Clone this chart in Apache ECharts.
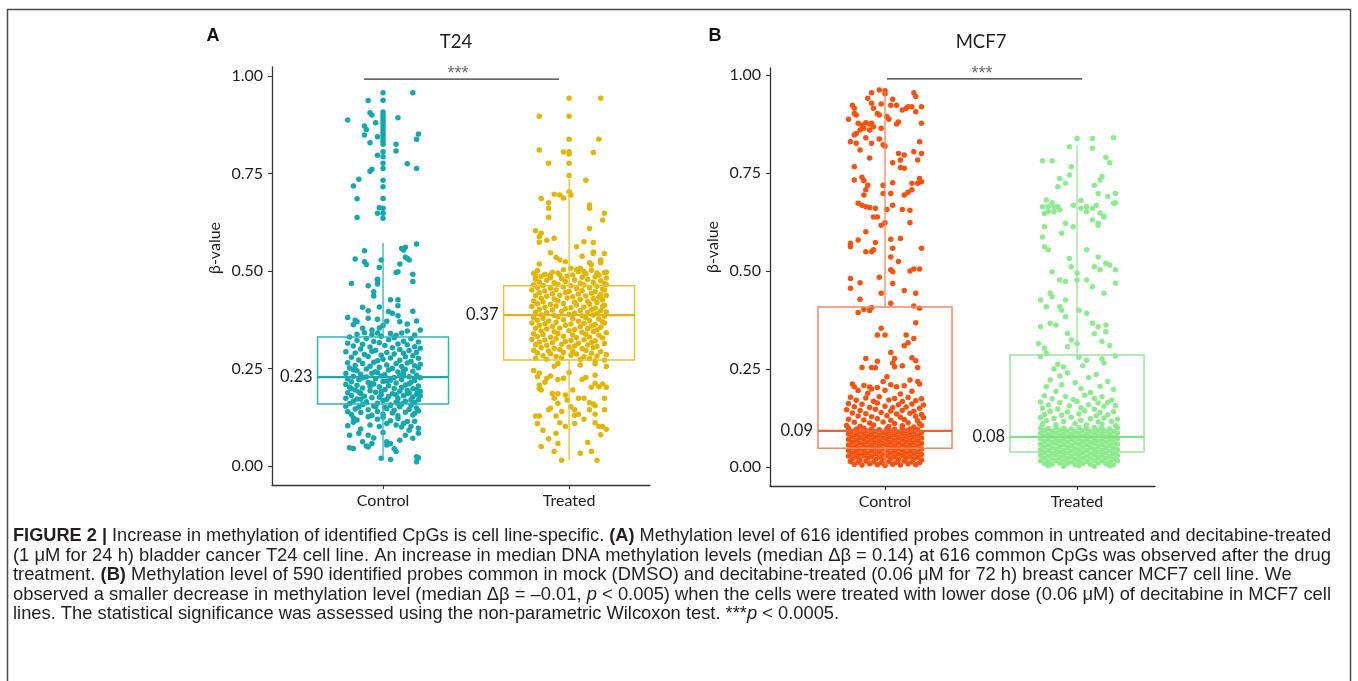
<!DOCTYPE html>
<html><head><meta charset="utf-8">
<script src="https://cdn.jsdelivr.net/npm/echarts@6/dist/echarts.min.js"></script>
<style>html,body{margin:0;padding:0;background:#fff}#c{width:1358px;height:681px}</style>
</head><body><div id="c"></div>
<script>
// ---------------- data ----------------
const categories = ['Control', 'Treated'];
const yTicks = [0, 0.25, 0.5, 0.75, 1];
const panelTitles = ['T24', 'MCF7'];
// box statistics per category: [min, q1, median, q3, max]
const t24Box = [[0.015, 0.159, 0.228, 0.331, 0.572], [0.015, 0.272, 0.387, 0.462, 0.736]];
const mcf7Box = [[0.004, 0.048, 0.092, 0.408, 0.957], [0.001, 0.038, 0.077, 0.286, 0.820]];
const t24MedianLabels = ['0.23', '0.37'];
const mcf7MedianLabels = ['0.09', '0.08'];
// boxplot outliers (drawn on the category centre)
const t24CtrlOutliers = [0.957, 0.938, 0.908, 0.900, 0.893, 0.885, 0.878, 0.870, 0.862, 0.855, 0.848, 0.840, 0.832, 0.825, 0.806, 0.793, 0.776, 0.763, 0.733, 0.716, 0.686, 0.661, 0.648, 0.635];
const t24TrtOutliers = [0.943, 0.897, 0.838, 0.806, 0.800, 0.776, 0.745];
// jittered points, flat pairs: [jitter (1/100 of a category), beta (1/1000), ...]
const t24Ctrl = [
16,957,-8,937,-19,887,-7,906,-6,900,-4,880,-10,872,-9,863,8,893,-10,849,-3,844,-7,829,19,851,18,838,7,825,7,808,-3,797,13,775,18,763,-6,761,-7,756,-13,735,-16,718,-14,685,-2,662,-3,648,-14,637,
18,569,-10,552,10,558,12,561,-15,531,-10,524,-9,517,-1,528,12,535,14,528,-2,509,9,518,7,496,16,492,-3,479,11,554,13,533,8,498,16,473,
-17,468,-3,477,-3,467,-8,462,-5,447,-5,436,-11,407,-2,408,8,426,8,411,16,397,3,396,4,426,
-15,374,-14,370,-16,362,-8,379,-3,376,8,385,9,370,0,360,2,371,13,364,-11,353,-6,349,-2,354,20,349,17,336,-14,338,-10,342,-6,337,-3,341,4,340,7,335,10,341,13,346,-19,381,5,392,-8,398,18,372,
-18,331,-9,327,-1,333,6,329,15,326,
-14,322,-5,319,3,324,11,320,19,318,
-19,315,-11,312,-2,316,8,313,13,311,
-16,308,-7,305,1,309,5,303,17,306,20,302,
-12,300,-4,297,9,299,14,296,
-20,293,-15,290,-6,294,2,291,11,289,18,292,
-10,286,-1,284,6,287,16,283,
-17,279,-8,281,4,277,12,280,19,276,
-13,272,-3,270,0,274,9,271,15,268,
-19,265,-11,263,-5,266,7,262,13,264,20,261,
-15,258,-7,256,2,259,10,255,17,257,
-18,251,-9,249,-2,253,5,250,12,248,19,252,
-14,244,-4,242,3,246,8,241,16,243,
-20,237,-12,235,-6,238,1,234,11,236,18,233,
-16,230,-9,228,-1,231,6,227,14,229,20,226,
-19,223,-13,221,-4,224,4,220,10,222,17,219,
-17,216,-8,214,0,217,7,213,15,215,
-20,209,-14,207,-5,210,3,206,12,208,19,205,
-18,202,-11,200,-2,203,6,199,10,201,16,198,
-15,195,-7,193,1,196,9,192,13,194,20,191,
-19,188,-12,186,-4,189,5,185,14,187,18,184,
-17,181,-10,179,-1,182,3,178,11,180,16,177,
-20,174,-14,172,-6,175,2,171,8,173,19,170,
-16,167,-9,165,0,168,7,164,12,166,17,163,
-18,160,-11,158,-3,161,4,157,10,159,15,156,
-20,153,-13,151,-5,154,1,150,9,152,18,149,
-15,146,-8,144,2,147,6,143,14,145,19,142,
-19,139,-12,137,-3,140,5,136,12,138,17,135,
-17,132,-6,130,0,133,8,129,16,131,
-16,247,-3,239,9,232,-11,226,2,218,14,211,-7,204,18,196,-13,190,7,183,-2,176,15,169,-9,162,4,155,-17,198,11,244,-6,212,17,225,-1,191,8,160,-12,171,20,180,-4,152,13,186,
-16,124,-14,118,-16,112,-8,126,-3,120,0,125,4,116,8,122,11,109,13,114,15,101,-7,105,-2,101,2,109,7,105,10,100,19,97,-18,79,-13,84,-8,79,0,86,12,79,19,84,-11,62,-6,58,2,62,4,57,16,71,-16,45,-8,49,2,54,6,44,-1,20,7,37,18,24,18,11,-18,47,-9,51,4,17,19,21,-12,95,14,92,-5,72,9,66,-19,103,17,115
];
const t24Trt = [
17,943,-16,897,16,838,-16,810,-3,805,13,804,-11,776,9,733,0,703,1,695,-15,686,-8,697,-5,695,-3,687,-11,675,-11,661,11,669,11,661,-11,638,19,648,18,631,11,609,-18,603,-15,597,-16,588,-16,574,-12,579,-8,584,4,562,8,575,13,573,-10,547,-7,535,-5,528,-2,524,13,549,13,545,7,538,19,545,17,528,17,521,-16,518,1,507,4,503,6,507,8,498,11,521,12,516,15,495,20,497,-10,490,-5,490,-13,491,-18,488,
-17,501,-9,497,-3,503,5,499,12,502,19,496,
-19,494,-13,491,-6,495,2,490,9,493,16,489,
-15,486,-10,483,-1,487,7,484,14,485,20,482,
-18,479,-12,476,-4,480,3,477,10,478,17,475,
-16,472,-8,470,-2,473,6,469,13,471,19,468,
-19,465,-14,463,-6,466,1,462,8,464,15,461,20,465,
-17,458,-10,456,-3,459,4,455,11,457,18,454,
-20,451,-13,449,-7,452,0,448,7,450,14,447,19,451,
-16,444,-9,442,-2,445,5,441,12,443,17,440,
-18,437,-12,435,-5,438,2,434,9,436,16,433,20,437,
-15,430,-8,428,-1,431,6,427,13,429,18,426,
-19,423,-14,421,-6,424,3,420,10,422,15,419,
-17,416,-10,414,-3,417,4,413,11,415,19,412,
-20,409,-13,407,-7,410,1,406,8,408,14,405,18,409,
-16,402,-9,400,-2,403,6,399,12,401,17,398,
-18,395,-12,393,-4,396,3,392,10,394,15,391,20,395,
-15,388,-8,386,0,389,7,385,13,387,19,384,
-19,381,-14,379,-6,382,2,378,9,380,16,377,
-17,374,-11,372,-3,375,5,371,11,373,18,370,
-20,367,-13,365,-7,368,1,364,8,366,14,363,19,367,
-16,360,-9,358,-2,361,6,357,12,359,17,356,
-18,353,-12,351,-5,354,3,350,10,352,15,349,
-15,346,-8,344,0,347,7,343,13,345,20,342,
-19,339,-14,337,-6,340,2,336,9,338,16,335,
-17,332,-10,330,-3,333,4,329,11,331,18,328,
-20,325,-13,323,-7,326,1,322,8,324,14,321,
-16,318,-9,316,-2,319,5,315,12,317,19,314,
-18,311,-12,309,-4,312,3,308,10,310,15,307,
-15,304,-8,302,0,305,7,301,13,303,
-19,297,-11,295,-5,298,2,294,9,296,17,293,
-17,290,-10,288,-3,291,4,287,12,289,20,286,
-14,283,-7,281,1,284,8,280,15,282,
-18,276,-12,274,-4,277,6,273,11,275,19,272,
-17,229,-16,238,-10,231,-12,225,-3,225,-6,222,-8,256,-6,263,20,255,14,270,14,262,6,259,14,233,7,222,9,227,-16,208,-16,199,-15,195,14,212,16,203,18,210,20,202,12,202,-9,186,-6,185,-8,174,-2,182,5,174,8,174,11,162,14,155,13,159,19,174,-1,169,1,152,3,144,-6,161,-10,148,-11,144,-7,128,-18,128,-16,128,3,130,5,133,11,144,14,133,19,144,-17,109,-5,111,-2,101,3,109,14,111,16,101,18,101,-14,92,-7,84,20,94,-6,58,-8,37,6,33,12,37,-4,15,15,15,-19,245,0,240,-13,215,2,195,-4,140,8,120,-11,70,10,60,-15,50,17,80
];
const mcf7Ctrl = [
-3,962,0,960,0,952,-7,955,15,955,16,945,4,938,-17,923,-16,915,-16,902,-15,898,-9,941,-7,928,-6,915,-2,926,3,923,6,923,9,911,11,915,12,919,14,919,19,919,16,906,-4,902,-3,898,1,894,2,887,-19,887,-14,877,-12,872,-10,878,-8,875,-7,877,-6,868,-11,864,-13,860,-15,851,-16,847,7,880,6,875,19,877,-2,864,-8,860,-18,830,-15,826,-13,809,-10,840,-7,826,-3,837,-1,822,0,818,18,830,19,800,17,783,7,800,10,796,8,783,-8,788,4,776,15,804,-16,766,8,764,10,762,18,736,19,728,17,724,-16,732,-12,739,-11,730,-9,719,-10,707,-11,694,-1,719,4,725,-1,698,3,698,14,724,14,707,10,694,12,701,-14,673,-12,668,-10,664,-8,662,-5,660,-6,638,-4,638,1,657,4,668,9,657,13,655,-2,617,0,623,13,623,-10,600,-18,571,-18,562,-14,579,-5,573,-6,554,-7,549,-10,549,3,581,8,583,4,558,19,558,3,536,7,524,3,503,4,498,13,500,15,505,18,505,-18,481,-3,484,
-13,470,-18,456,-2,443,4,468,10,450,16,443,-13,428,3,418,-14,394,-11,402,-7,407,-8,399,15,411,18,405,16,368,-2,354,-4,337,0,337,11,337,15,328,12,317,10,309,3,292,5,277,4,265,5,256,9,258,-10,277,-7,254,-12,254,-4,270,-5,253,14,279,16,271,17,254,1,230,-1,218,13,222,17,218,
-17,212,-16,205,-11,208,-8,204,-7,199,-4,203,3,210,6,205,10,207,18,212,-14,195,0,196,14,193,-9,188,8,186,
-18,178,-10,176,-3,179,5,175,12,177,19,174,
-15,170,-6,168,2,171,9,167,16,169,
-19,162,-12,160,-4,163,7,159,14,161,20,158,
-16,154,-8,152,0,155,4,151,11,153,18,150,
-20,146,-13,144,-5,147,3,143,9,145,15,142,
-17,138,-10,136,-2,139,6,135,13,137,19,134,
-14,130,-7,128,1,131,8,127,16,129,20,126,
-19,122,-11,120,-4,123,3,119,10,121,17,118,
-16,114,-8,112,-1,115,5,111,12,113,18,110,
-20,106,-13,104,-6,107,2,103,9,105,15,102,19,106,
-19,98,-15,96,-11,99,-7,97,-3,95,1,98,5,96,9,99,13,97,17,95,
-17,91,-13,89,-9,92,-5,90,-1,88,3,91,7,89,11,92,15,90,19,88,
-19,84,-15,82,-11,85,-7,83,-3,81,1,84,5,82,9,85,13,83,17,81,
-17,77,-13,75,-9,78,-5,76,-1,74,3,77,7,75,11,78,15,76,19,74,
-19,70,-15,68,-11,71,-7,69,-3,67,1,70,5,68,9,71,13,69,17,67,
-17,63,-13,61,-9,64,-5,62,-1,60,3,63,7,61,11,64,15,62,19,60,
-19,56,-15,54,-11,57,-7,55,-3,53,1,56,5,54,9,57,13,55,17,53,
-17,49,-13,47,-9,50,-5,48,-1,46,3,49,7,47,11,50,15,48,19,46,
-19,42,-15,40,-11,43,-7,41,-3,39,1,42,5,40,9,43,13,41,17,39,
-17,35,-13,33,-9,36,-5,34,-1,32,3,35,7,33,11,36,15,34,19,32,
-19,28,-15,26,-11,29,-7,27,-3,25,1,28,5,26,9,29,13,27,17,25,
-17,21,-13,19,-9,22,-5,20,-1,18,3,21,7,19,11,22,15,20,19,18,
-18,14,-14,12,-10,15,-6,13,-2,11,2,14,6,12,10,15,14,13,18,11,
-16,7,-12,5,-8,8,-4,6,0,4,4,7,8,5,12,8,16,6
];
const mcf7Trt = [
0,838,8,838,19,840,-4,817,8,813,-18,781,-13,781,15,790,17,776,-3,766,-4,745,-6,724,13,741,12,732,9,719,11,698,20,698,16,690,20,674,-9,736,-10,715,-16,681,-13,674,-10,664,-12,651,-15,664,-17,647,2,680,5,664,8,660,12,648,14,640,
-18,664,-15,651,-12,664,-9,656,-2,668,2,660,5,651,10,668,14,638,11,622,19,673,-17,613,-18,587,-17,562,-15,554,-6,622,-2,613,-8,596,8,630,11,617,5,554,11,536,9,511,12,503,15,520,17,515,20,503,20,469,-4,532,-3,511,0,494,-13,498,-9,477,-6,473,0,477,5,477,8,460,14,443,-19,426,-16,409,-13,434,-14,443,-9,409,-6,426,-8,400,-6,383,-19,358,-14,367,-11,362,1,400,5,392,8,367,11,358,15,362,-5,341,-3,324,0,315,-5,307,9,340,13,320,17,310,15,345,-20,315,-17,303,-16,290,-19,281,
1,280,5,272,13,276,14,265,20,283,-10,262,-7,255,-12,250,3,258,-9,232,-5,240,6,228,10,236,-14,222,-1,215,16,218,-16,205,-8,210,2,200,12,206,19,198,-11,193,7,190,
-17,182,-6,180,4,183,13,179,
-13,174,-2,172,9,175,18,171,
-19,166,-9,164,0,167,11,163,16,165,
-15,158,-4,156,6,159,14,155,20,157,
-18,150,-10,148,2,151,9,147,
-14,142,-5,140,4,143,12,139,19,141,
-17,134,-8,132,1,135,10,131,16,133,
-19,126,-12,124,-3,127,7,123,14,125,21,122,
-16,118,-7,116,2,119,11,115,18,117,
-18,110,-11,108,-1,111,5,107,13,109,20,106,
-19,100,-15,98,-11,101,-7,99,-3,97,1,100,5,98,9,101,13,99,17,97,21,100,
-17,93,-13,91,-9,94,-5,92,-1,90,3,93,7,91,11,94,15,92,19,90,
-19,86,-15,84,-11,87,-7,85,-3,83,1,86,5,84,9,87,13,85,17,83,21,86,
-17,79,-13,77,-9,80,-5,78,-1,76,3,79,7,77,11,80,15,78,19,76,
-19,72,-15,70,-11,73,-7,71,-3,69,1,72,5,70,9,73,13,71,17,69,21,72,
-17,65,-13,63,-9,66,-5,64,-1,62,3,65,7,63,11,66,15,64,19,62,
-19,58,-15,56,-11,59,-7,57,-3,55,1,58,5,56,9,59,13,57,17,55,21,58,
-17,51,-13,49,-9,52,-5,50,-1,48,3,51,7,49,11,52,15,50,19,48,
-19,44,-15,42,-11,45,-7,43,-3,41,1,44,5,42,9,45,13,43,17,41,21,44,
-17,37,-13,35,-9,38,-5,36,-1,34,3,37,7,35,11,38,15,36,19,34,
-19,30,-15,28,-11,31,-7,29,-3,27,1,30,5,28,9,31,13,29,17,27,21,30,
-17,23,-13,21,-9,24,-5,22,-1,20,3,23,7,21,11,24,15,22,19,20,
-19,16,-15,14,-11,17,-7,15,-3,13,1,16,5,14,9,17,13,15,17,13,21,16,
-17,9,-13,7,-9,10,-5,8,-1,6,3,9,7,7,11,10,15,8,19,6,
-15,3,-7,2,1,4,9,2,17,3
];
// significance bars: [x start, x end, y, label x, label y]
const t24Sig = [0.898, 1.946, 0.992, 1.403, 1.004];
const mcf7Sig = [1.010, 2.026, 0.990, 1.505, 1.002];
const captionLines = [
  [['FIGURE 2 |', 'b'], [' Increase in methylation of identified CpGs is cell line-specific. ', ''], ['(A)', 'b'], [' Methylation level of 616 identified probes common in untreated and decitabine-treated', '']],
  [['(1 \u03bcM for 24 h) bladder cancer T24 cell line. An increase in median DNA methylation levels (median \u0394\u03b2 = 0.14) at 616 common CpGs was observed after the drug', '']],
  [['treatment. ', ''], ['(B)', 'b'], [' Methylation level of 590 identified probes common in mock (DMSO) and decitabine-treated (0.06 \u03bcM for 72 h) breast cancer MCF7 cell line. We', '']],
  [['observed a smaller decrease in methylation level (median \u0394\u03b2 = \u20130.01, ', ''], ['p', 'i'], [' < 0.005) when the cells were treated with lower dose (0.06 \u03bcM) of decitabine in MCF7 cell', '']],
  [['lines. The statistical significance was assessed using the non-parametric Wilcoxon test. ***', ''], ['p', 'i'], [' < 0.0005.', '']]
];

// ---------------- styling ----------------
const colors = {
  t24: [{pt: '#14A7AD', line: '#34B2B6', med: '#1FA9AE'}, {pt: '#E2B500', line: '#E8C232', med: '#DDB21A'}],
  mcf7: [{pt: '#F7520F', line: '#EE8962', med: '#E8613D'}, {pt: '#8FEA8F', line: '#9BE49B', med: '#86DE86'}]
};
const FONT = 'Lato';
const AX = '#333';
const TXT = '#1e1e1e';

function pairs(flat, cat) {
  const out = [];
  for (let i = 0; i < flat.length; i += 2) out.push([cat + flat[i] / 100, flat[i + 1] / 1000]);
  return out;
}
function boxData(stats) { return stats.map((s, i) => [i + 1].concat(s)); }

function boxRenderer(cols, labels, hw) {
  return function (params, api) {
    const i = params.dataIndex;
    const x = api.value(0), mn = api.value(1), q1 = api.value(2), md = api.value(3), q3 = api.value(4), mx = api.value(5);
    const tl = api.coord([x - hw, q3]), br = api.coord([x + hw, q1]);
    const a = api.coord([x, q3]), b = api.coord([x, mx]);
    const c = api.coord([x, q1]), d = api.coord([x, mn]);
    const mL = api.coord([x - hw, md]), mR = api.coord([x + hw, md]);
    const col = cols[i];
    return {
      type: 'group', children: [
        {type: 'line', shape: {x1: a[0], y1: a[1], x2: b[0], y2: b[1]}, style: {stroke: col.line, lineWidth: 1.3}},
        {type: 'line', shape: {x1: c[0], y1: c[1], x2: d[0], y2: d[1]}, style: {stroke: col.line, lineWidth: 1.3}},
        {type: 'rect', shape: {x: tl[0], y: tl[1], width: br[0] - tl[0], height: br[1] - tl[1]}, style: {fill: 'none', stroke: col.line, lineWidth: 1.5}},
        {type: 'line', shape: {x1: mL[0], y1: mL[1], x2: mR[0], y2: mR[1]}, style: {stroke: col.med, lineWidth: 2.3}},
        {type: 'text', x: mL[0] - 5, y: mL[1], style: {text: labels[i], align: 'right', verticalAlign: 'middle', fontSize: 16.5, fontFamily: FONT, fill: TXT}}
      ]
    };
  };
}

function xAxisCfg(gi, min, max) {
  return {
    gridIndex: gi, type: 'value', min: min, max: max,
    axisLine: {show: true, onZero: false, lineStyle: {color: AX, width: 1.3}},
    axisTick: {show: true, customValues: [1, 2], length: 4, lineStyle: {color: AX}},
    axisLabel: {customValues: [1, 2], formatter: v => categories[Math.round(v) - 1], color: TXT, fontSize: 16, fontFamily: FONT, margin: 8},
    splitLine: {show: false}
  };
}
function yAxisCfg(gi, min, max) {
  return {
    gridIndex: gi, type: 'value', min: min, max: max,
    axisLine: {show: true, onZero: false, lineStyle: {color: AX, width: 1.3}},
    axisTick: {show: true, customValues: yTicks, length: 4, lineStyle: {color: AX}},
    axisLabel: {customValues: yTicks, formatter: v => v.toFixed(2), color: TXT, fontSize: 16, fontFamily: FONT, margin: 9},
    splitLine: {show: false}
  };
}
function scatter(gi, data, color, z) {
  return {type: 'scatter', xAxisIndex: gi, yAxisIndex: gi, data: data, symbolSize: 5.5, silent: true, z: z || 2,
    itemStyle: {color: color, opacity: 1}};
}
function sigSeries(gi, s) {
  return [
    {type: 'line', xAxisIndex: gi, yAxisIndex: gi, data: [[s[0], s[2]], [s[1], s[2]]], symbol: 'none', silent: true, lineStyle: {color: AX, width: 1.2}, z: 4},
    {type: 'scatter', xAxisIndex: gi, yAxisIndex: gi, data: [[s[3], s[4]]], symbolSize: 0, silent: true, z: 4,
      label: {show: true, position: 'inside', formatter: '***', color: '#444', fontSize: 18, fontFamily: 'Liberation Sans'}}
  ];
}

// caption layout (measure to match the justified line width)
const mctx = document.createElement('canvas').getContext('2d');
const CAP_FONT = 'Liberation Sans';
const CAP_SIZE = 19;
function segFont(st) { return (st === 'b' ? 'bold ' : st === 'i' ? 'italic ' : '') + CAP_SIZE + 'px "' + CAP_FONT + '"'; }
function lineWidth(segs) { return segs.reduce((w, s) => { mctx.font = segFont(s[1]); return w + mctx.measureText(s[0]).width; }, 0); }
const fullWidth = 1318;
const justified = [true, true, false, true, false];
const scales = captionLines.map(l => fullWidth / lineWidth(l));
const baseScale = (scales[0] + scales[1] + scales[3]) / 3;
const capY = [536, 555.5, 575, 594.5, 614];
const captionGraphics = captionLines.map((segs, i) => ({
  type: 'text', x: 13, y: capY[i], scaleX: justified[i] ? scales[i] : baseScale, silent: true,
  style: {
    text: segs.map(s => s[1] ? '{' + s[1] + '|' + s[0] + '}' : s[0]).join(''),
    fontSize: CAP_SIZE, fontFamily: CAP_FONT, fill: '#231f20', verticalAlign: 'middle', align: 'left',
    rich: {
      b: {fontWeight: 'bold', fontSize: CAP_SIZE, fontFamily: CAP_FONT, fill: '#231f20'},
      i: {fontStyle: 'italic', fontSize: CAP_SIZE, fontFamily: CAP_FONT, fill: '#231f20'}
    }
  }
}));

const chart = echarts.init(document.getElementById('c'), null, {renderer: 'canvas'});
chart.setOption({
  animation: false,
  backgroundColor: '#fff',
  grid: [
    {left: 272, top: 67, width: 378, height: 418},
    {left: 770, top: 68, width: 385, height: 418}
  ],
  xAxis: [xAxisCfg(0, 0.403, 2.435), xAxisCfg(1, 0.401, 2.406)],
  yAxis: [yAxisCfg(0, -0.0487, 1.0231), yAxisCfg(1, -0.0485, 1.0179)],
  graphic: [
    {type: 'rect', shape: {x: 7.5, y: 9.5, width: 1343, height: 720}, style: {fill: 'none', stroke: '#4a4a4a', lineWidth: 1.5}, silent: true},
    {type: 'text', x: 213, y: 36, style: {text: 'A', fontSize: 18, fontWeight: 'bold', fontFamily: 'Liberation Sans', fill: '#111', align: 'center', verticalAlign: 'middle'}},
    {type: 'text', x: 715, y: 36, style: {text: 'B', fontSize: 18, fontWeight: 'bold', fontFamily: 'Liberation Sans', fill: '#111', align: 'center', verticalAlign: 'middle'}},
    {type: 'text', x: 456, y: 42, style: {text: panelTitles[0], fontSize: 18.5, fontFamily: FONT, fill: TXT, align: 'center', verticalAlign: 'middle'}},
    {type: 'text', x: 981, y: 42, style: {text: panelTitles[1], fontSize: 18.5, fontFamily: FONT, fill: TXT, align: 'center', verticalAlign: 'middle'}},
    {type: 'text', x: 215, y: 248, rotation: Math.PI / 2, style: {text: '\u03b2-value', fontSize: 16, fontFamily: FONT, fill: TXT, align: 'center', verticalAlign: 'middle'}},
    {type: 'text', x: 713, y: 247, rotation: Math.PI / 2, style: {text: '\u03b2-value', fontSize: 16, fontFamily: FONT, fill: TXT, align: 'center', verticalAlign: 'middle'}}
  ].concat(captionGraphics),
  series: [
    scatter(0, pairs(t24Ctrl, 1), colors.t24[0].pt),
    scatter(0, pairs(t24Trt, 2), colors.t24[1].pt),
    scatter(0, t24CtrlOutliers.map(v => [1, v]), colors.t24[0].pt),
    scatter(0, t24TrtOutliers.map(v => [2, v]), colors.t24[1].pt),
    scatter(1, pairs(mcf7Ctrl, 1), colors.mcf7[0].pt),
    scatter(1, pairs(mcf7Trt, 2), colors.mcf7[1].pt),
    {type: 'custom', xAxisIndex: 0, yAxisIndex: 0, data: boxData(t24Box), renderItem: boxRenderer(colors.t24, t24MedianLabels, 0.352), silent: true, z: 3,
      encode: {x: 0, y: [1, 2, 3, 4, 5]}},
    {type: 'custom', xAxisIndex: 1, yAxisIndex: 1, data: boxData(mcf7Box), renderItem: boxRenderer(colors.mcf7, mcf7MedianLabels, 0.349), silent: true, z: 3,
      encode: {x: 0, y: [1, 2, 3, 4, 5]}}
  ].concat(sigSeries(0, t24Sig), sigSeries(1, mcf7Sig))
});
</script>
</body></html>
